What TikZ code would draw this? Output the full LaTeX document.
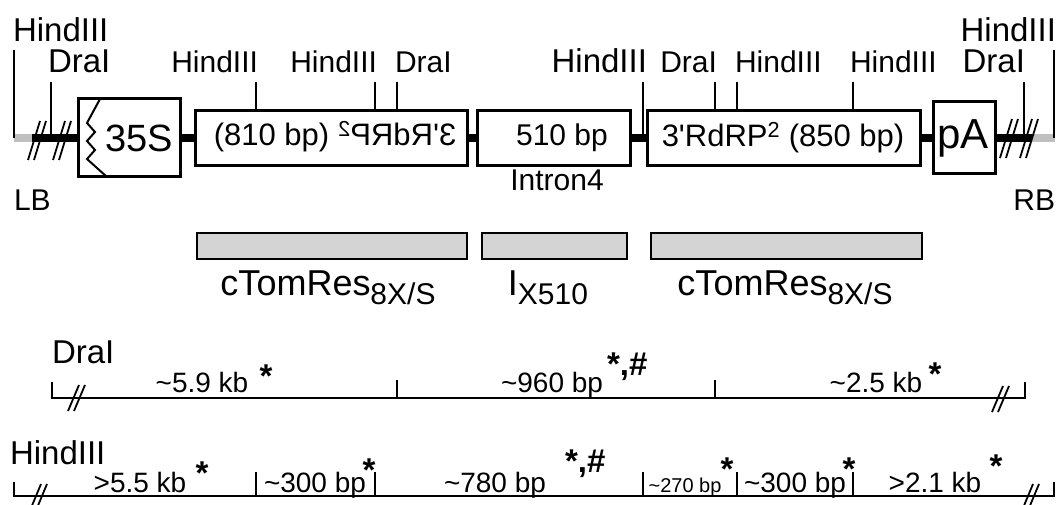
\documentclass[tikz,border=0pt]{standalone}
\usepackage{fontspec}
\setmainfont{Liberation Sans}
\usepackage{graphicx}
\newcommand{\fsz}[1]{\fontsize{#1}{#1}\selectfont}
\begin{document}
\begin{tikzpicture}[x=1pt,y=-1pt,
  txt/.style={inner sep=0pt,outer sep=0pt},
  lbig/.style={txt,font=\fsz{33}},
  lreg/.style={txt,font=\fsz{30}},
  frag/.style={txt,font=\fsz{28}},
  fragsm/.style={txt,font=\fsz{20}},
  starmark/.style={txt,font=\bfseries\fsz{33}},
  box/.style={draw,line width=3pt,fill=white,inner sep=0pt},
  bar/.style={draw,line width=2pt,fill=black!17,inner sep=0pt,minimum height=26pt},
  site/.style={line width=2pt},
  slash/.style={line width=1.8pt},
  dna/.style={line width=8pt},
  dnaend/.style={line width=8pt,black!25},
  ruler/.style={line width=2.2pt},
]
\useasboundingbox (0,0) rectangle (1059,505);

% ---------- T-DNA backbone ----------
\coordinate (lbEnd)  at (14,138);
\coordinate (lbJoin) at (32,138);
\coordinate (rbJoin) at (1032,138);
\coordinate (rbEnd)  at (1055,138);

\node[box,minimum width=102pt,minimum height=78pt] (p35)    at (129,138) {};
\node[box,minimum width=272pt,minimum height=55pt] (r1)     at (331,138) {};
\node[box,minimum width=153pt,minimum height=55pt] (intron) at (553.5,138) {};
\node[box,minimum width=273pt,minimum height=55pt] (r2)     at (783.5,138) {};
\node[box,minimum width=62pt,minimum height=72pt]  (pA)     at (964,138) {};

\draw[dnaend] (lbEnd) -- (lbJoin);
\draw[dna] (lbJoin) -- (p35.west);
\draw[dna] (p35.east) -- (r1.west);
\draw[dna] (r1.east) -- (intron.west);
\draw[dna] (intron.east) -- (r2.west);
\draw[dna] (r2.east) -- (pA.west);
\draw[dna] (pA.east) -- (rbJoin);
\draw[dnaend] (rbJoin) -- (rbEnd);

% boxes redrawn on top of the backbone
\node[box,minimum width=102pt,minimum height=78pt] at (p35) {};
\node[box,minimum width=272pt,minimum height=55pt] at (r1) {};
\node[box,minimum width=153pt,minimum height=55pt] at (intron) {};
\node[box,minimum width=273pt,minimum height=55pt] at (r2) {};
\node[box,minimum width=62pt,minimum height=72pt]  at (pA) {};

% promoter zigzag
\draw[line width=2pt,line join=miter] (100,99) -- (87,123) -- (95,132) -- (87,141) -- (95,150) -- (87,159) -- (107,177);

% box texts
\node[txt,font=\fsz{38}] (t35) at (139,138) {35S};
\node[txt,font=\fsz{31}] (t1) at (335,137) {(810 bp) \reflectbox{3\textquotesingle RdRP\textsuperscript{2}}};
\node[txt,font=\fsz{30}] (ti) at (562,138) {510 bp};
\node[txt,font=\fsz{31}] (t2) at (783,138) {3\textquotesingle RdRP\textsuperscript{2} (850 bp)};
\node[txt,font=\fsz{42}] (tpA) at (963,138) {pA};
\node[lreg,anchor=base] (tin) at (557,190) {Intron4};
\node[lreg,anchor=base west] (LB) at (14,210) {LB};
\node[lreg,anchor=base east] (RB) at (1055,210) {RB};

% break marks on the backbone
\foreach \x in {28,34,53,59} \draw[slash] (\x,160) -- (\x+12,121);
\foreach \x in {1000,1006,1020,1026} \draw[slash] (\x,158) -- (\x+12,119);

% restriction sites
\coordinate (sH0) at (14,50);
\coordinate (sD0) at (51,82);
\coordinate (sH1) at (256,82);
\coordinate (sH2) at (375,82);
\coordinate (sD1) at (397,82);
\coordinate (sH3) at (643,82);
\coordinate (sD2) at (715,82);
\coordinate (sH4) at (737,82);
\coordinate (sH5) at (853,82);
\coordinate (sD3) at (1024,82);
\coordinate (sH6) at (1054,50);
\draw[site] (sH0) -- (sH0 |- lbEnd);
\draw[site] (sD0) -- (sD0 |- lbJoin);
\draw[site] (sH1) -- (sH1 |- r1.north);
\draw[site] (sH2) -- (sH2 |- r1.north);
\draw[site] (sD1) -- (sD1 |- r1.north);
\draw[site] (sH3) -- (sH3 |- rbJoin);
\draw[site] (sD2) -- (sD2 |- r2.north);
\draw[site] (sH4) -- (sH4 |- r2.north);
\draw[site] (sH5) -- (sH5 |- r2.north);
\draw[site] (sD3) -- (sD3 |- rbJoin);
\draw[site] (sH6) -- (sH6 |- rbEnd);

\node[lbig,anchor=base west] (lH0) at (13,42) {HindIII};
\node[lbig,anchor=base west] (lD0) at (48,73) {DraI};
\node[lreg,anchor=base east] (lH1) at (258,73) {HindIII};
\node[lreg,anchor=base east] (lH2) at (377,73) {HindIII};
\node[lreg,anchor=base west] (lD1) at (395,73) {DraI};
\node[lbig,anchor=base east] (lH3) at (647,73) {HindIII};
\node[lreg,anchor=base east] (lD2) at (717,73) {DraI};
\node[lreg,anchor=base west] (lH4) at (735,73) {HindIII};
\node[lreg,anchor=base west] (lH5) at (850,73) {HindIII};
\node[lbig,anchor=base east] (lH6) at (1056,42) {HindIII};
\node[lbig,anchor=base east] (lD3) at (1025,73) {DraI};

% ---------- hairpin arms and intron ----------
\node[bar,minimum width=270pt] (b1) at (332,246) {};
\node[bar,minimum width=145pt] (b2) at (554.5,246) {};
\node[bar,minimum width=271pt] (b3) at (786.5,246) {};
\node[txt,font=\fsz{36},anchor=base] (c1) at (328,295) {cTomRes\raisebox{-9pt}{\fsz{30}8X/S}};
\node[txt,font=\fsz{36},anchor=base] (c2) at (548,295) {I\raisebox{-9pt}{\fsz{30}X510}};
\node[txt,font=\fsz{36},anchor=base] (c3) at (785,295) {cTomRes\raisebox{-9pt}{\fsz{30}8X/S}};

% ---------- DraI fragments ----------
\node[lbig,anchor=base west] (dLab) at (52,363) {DraI};
\coordinate (dA) at (52,398);  \coordinate (dAt) at (52,382);
\coordinate (dB) at (397,398); \coordinate (dBt) at (397,380);
\coordinate (dC) at (715,398); \coordinate (dCt) at (715,380);
\coordinate (dD) at (1025,398);\coordinate (dDt) at (1025,382);
\draw[ruler] (dAt) -- (dA) -- (dD) -- (dDt);
\draw[ruler] (dB) -- (dBt);
\draw[ruler] (dC) -- (dCt);
\draw[slash] (68,411) -- (79,385);
\draw[slash] (74,411) -- (85,385);
\draw[slash] (992,412) -- (1003,386);
\draw[slash] (998,412) -- (1009,386);
\node[frag,anchor=base] (df1) at (202,392) {\textasciitilde5.9 kb};
\node[frag,anchor=base] (df2) at (552,392) {\textasciitilde960 bp};
\node[frag,anchor=base] (df3) at (876,392) {\textasciitilde2.5 kb};
\node[starmark,anchor=base] (ds1) at (266,387) {*};
\node[starmark,anchor=base west] (ds2) at (607,375) {*,\#};
\node[starmark,anchor=base] (ds3) at (935,385) {*};

% ---------- HindIII fragments ----------
\node[lbig,anchor=base west] (hLab) at (10,464) {HindIII};
\coordinate (hA) at (14,496);   \coordinate (hAt) at (14,482);
\coordinate (hZ) at (1054,496); \coordinate (hZt) at (1054,482);
\draw[ruler] (hAt) -- (hA) -- (hZ) -- (hZt);
\foreach \x in {256,375,643,737,853} \draw[ruler] (\x,496) -- (\x,472);
\draw[slash] (31,508) -- (41,484);
\draw[slash] (37,508) -- (47,484);
\draw[slash] (1023,508) -- (1033,484);
\draw[slash] (1029,508) -- (1039,484);
\node[frag,anchor=base] (hf1) at (140,492) {>5.5 kb};
\node[frag,anchor=base] (hf2) at (315,492) {\textasciitilde300 bp};
\node[frag,anchor=base] (hf3) at (495,492) {\textasciitilde780 bp};
\node[fragsm,anchor=base] (hf4) at (685,492) {\textasciitilde270 bp};
\node[frag,anchor=base] (hf5) at (795,492) {\textasciitilde300 bp};
\node[frag,anchor=base] (hf6) at (935,492) {>2.1 kb};
\node[starmark,anchor=base] (hs1) at (202,484) {*};
\node[starmark,anchor=base] (hs2) at (369,481) {*};
\node[starmark,anchor=base west] (hs3) at (565,472) {*,\#};
\node[starmark,anchor=base] (hs4) at (727,480) {*};
\node[starmark,anchor=base] (hs5) at (849,480) {*};
\node[starmark,anchor=base] (hs6) at (996,477) {*};
\end{tikzpicture}
\end{document}
